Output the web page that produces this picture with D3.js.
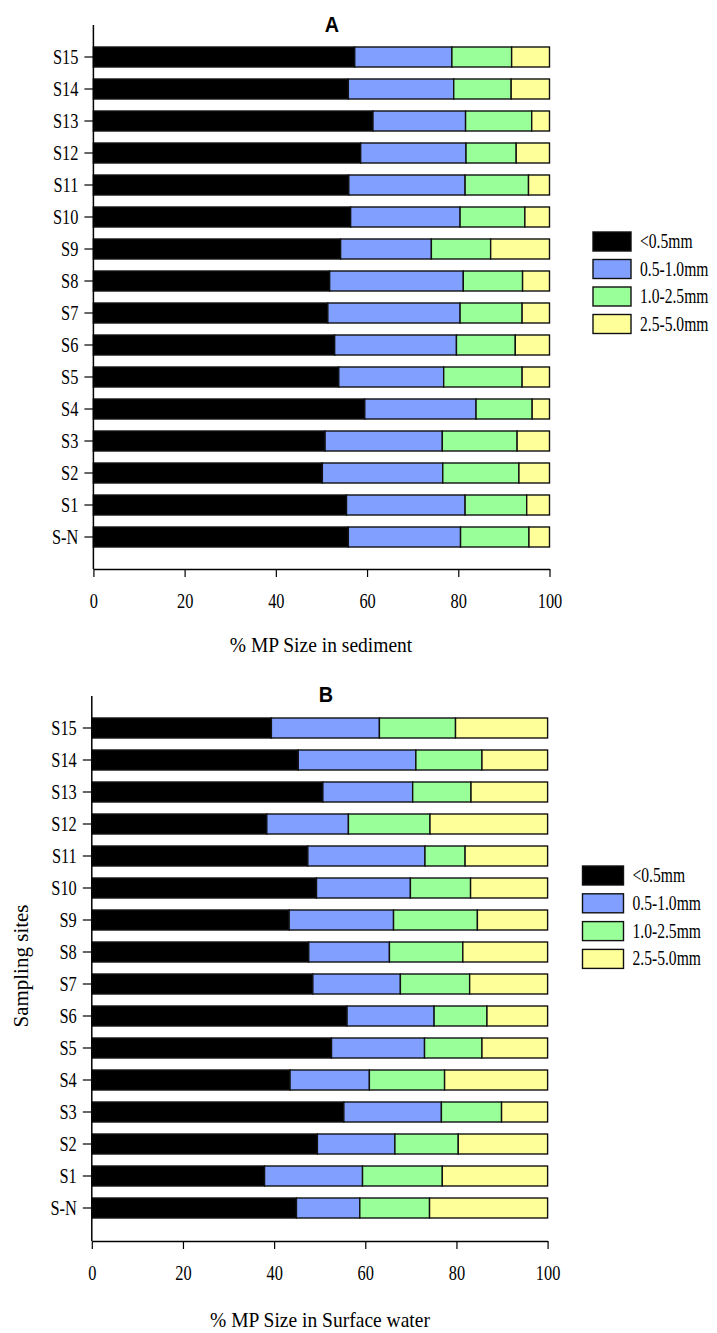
<!DOCTYPE html>
<html>
<head>
<meta charset="utf-8">
<script src="https://cdn.jsdelivr.net/npm/d3@7/dist/d3.min.js"></script>
<style>
  body { margin: 0; background: #fff; }
  svg { display: block; }
  text { font-family: "Liberation Serif", "Times New Roman", serif; fill: #000; }
</style>
</head>
<body>
<div id="chart"></div>
<script>
//---------------------------------- Data --------------------
var sites = ["S-N", "S1", "S2", "S3", "S4", "S5", "S6", "S7", "S8", "S9", "S10", "S11", "S12", "S13", "S14", "S15"];
var size_classes = ["<0.5mm", "0.5-1.0mm", "1.0-2.5mm", "2.5-5.0mm"];
var x_ticks = [0, 20, 40, 60, 80, 100];

// sediment (A), % per size class, same order as sites
var sed_lt05  = [55.9, 55.5, 50.2, 50.8, 59.5, 53.8, 52.9, 51.4, 51.8, 54.2, 56.4, 56.0, 58.6, 61.3, 55.9, 57.3];
var sed_05_10 = [24.6, 26.0, 26.4, 25.7, 24.4, 23.0, 26.7, 29.0, 29.3, 19.9, 24.0, 25.5, 23.1, 20.3, 23.1, 21.3];
var sed_10_25 = [15.0, 13.5, 16.7, 16.4, 12.3, 17.2, 12.9, 13.6, 13.0, 13.0, 14.2, 13.9, 11.0, 14.5, 12.6, 13.1];
var sed_25_50 = [4.5, 5.0, 6.7, 7.1, 3.8, 6.0, 7.5, 6.0, 5.9, 12.9, 5.4, 4.6, 7.3, 3.9, 8.4, 8.3];

// surface water (B)
var wat_lt05  = [44.9, 37.9, 49.5, 55.3, 43.5, 52.6, 56.0, 48.5, 47.6, 43.3, 49.3, 47.4, 38.4, 50.7, 45.3, 39.4];
var wat_05_10 = [13.9, 21.5, 17.0, 21.4, 17.4, 20.4, 19.1, 19.2, 17.7, 22.9, 20.6, 25.7, 17.9, 19.7, 25.8, 23.7];
var wat_10_25 = [15.3, 17.5, 13.9, 13.2, 16.5, 12.6, 11.6, 15.2, 16.1, 18.4, 13.2, 8.8, 17.9, 12.8, 14.5, 16.7];
var wat_25_50 = [25.9, 23.1, 19.6, 10.1, 22.6, 14.4, 13.3, 17.1, 18.6, 15.4, 16.9, 18.1, 25.8, 16.8, 14.4, 20.2];

var colors = d3.scaleOrdinal()
    .domain(size_classes)
    .range(["#000000", "#809fff", "#99ff99", "#ffff99"]);

var squeeze = 0.78;   // the figure is narrowed horizontally, so are its texts

var svg = d3.select("div#chart")
   .append("svg")
   .attr("width", 717)
   .attr("height", 1333);

function buildRows(series) {
  return sites.map(function(s, i) {
    var row = {site: s};
    size_classes.forEach(function(c, j) { row[c] = series[j][i]; });
    return row;
  });
}

//---------------------------------- One panel --------------------
function drawPanel(p) {

  var x_scale = d3.scaleLinear()
      .domain([0, 100])
      .range([p.x0, p.x1]);

  // step of 32px, bars 20px high
  var y_scale = d3.scaleBand()
      .domain(sites.slice().reverse())
      .range([p.firstCenter - 16, p.firstCenter - 16 + 32 * sites.length])
      .paddingInner(0.375)
      .paddingOuter(0.1875);

  var stacked = d3.stack().keys(size_classes)(buildRows(p.series));

  var g = svg.append("g").attr("class", "panel");

  // ---------- bars ----------
  g.selectAll(".layer").data(stacked).enter().append("g")
    .attr("class", "layer")
    .attr("fill", function(d) { return colors(d.key); })
    .selectAll("rect").data(function(d) { return d; }).enter().append("rect")
      .attr("x", function(d) { return x_scale(d[0]); })
      .attr("y", function(d) { return y_scale(d.data.site); })
      .attr("width", function(d) { return x_scale(d[1]) - x_scale(d[0]); })
      .attr("height", y_scale.bandwidth())
      .style("stroke", "#111")
      .style("stroke-width", 1.4);

  // ---------- y axis ----------
  var yAxis = g.append("g")
    .attr("transform", "translate(" + p.x0 + ",0)")
    .call(d3.axisLeft(y_scale).tickSize(9).tickSizeOuter(0));
  yAxis.select(".domain").remove();
  yAxis.selectAll(".tick line").style("stroke", "#000").style("stroke-width", 1.2);
  yAxis.selectAll(".tick text")
    .attr("x", null)
    .attr("dy", "0.35em")
    .attr("transform", "translate(-15,0) scale(" + squeeze + ",1)")
    .style("font-size", "21px")
    .style("font-family", '"Liberation Serif", serif');

  g.append("line")
    .attr("x1", p.x0).attr("x2", p.x0)
    .attr("y1", p.axisTop).attr("y2", p.axisY)
    .style("stroke", "#000").style("stroke-width", 1.5);

  // ---------- x axis ----------
  var xAxis = g.append("g")
    .attr("transform", "translate(0," + p.axisY + ")")
    .call(d3.axisBottom(x_scale).tickValues(x_ticks).tickSize(8).tickSizeOuter(0));
  xAxis.select(".domain").style("stroke", "#000").style("stroke-width", 1.5);
  xAxis.selectAll(".tick line").style("stroke", "#000").style("stroke-width", 1.2);
  xAxis.selectAll(".tick text")
    .attr("y", 39)
    .attr("dy", null)
    .attr("transform", "scale(" + squeeze + ",1)")
    .style("font-size", "21px")
    .style("font-family", '"Liberation Serif", serif');

  // ---------- titles ----------
  g.append("text")
    .attr("transform", "translate(" + p.titleX + "," + p.titleY + ") scale(0.9,1)")
    .attr("text-anchor", "middle")
    .style("font-family", '"Liberation Sans", Arial, sans-serif')
    .style("font-weight", "bold")
    .style("font-size", "22px")
    .text(p.title);

  g.append("text")
    .attr("transform", "translate(" + p.labelX + "," + p.labelY + ") scale(0.93,1)")
    .attr("text-anchor", "middle")
    .style("font-size", "21px")
    .text(p.xLabel);

  // ---------- legend ----------
  var legend = g.selectAll(".legend_item").data(size_classes).enter().append("g")
    .attr("class", "legend_item")
    .attr("transform", function(d, i) { return "translate(" + p.legX + "," + (p.legY + i * p.legStep) + ")"; });

  legend.append("rect")
    .attr("width", p.legW)
    .attr("height", 19)
    .attr("fill", function(d) { return colors(d); })
    .style("stroke", "#111")
    .style("stroke-width", 1.4);

  legend.append("text")
    .attr("transform", "translate(" + (p.legW + 9) + ",16) scale(" + squeeze + ",1)")
    .style("font-size", "20px")
    .text(function(d) { return d; });
}

drawPanel({
  series: [sed_lt05, sed_05_10, sed_10_25, sed_25_50],
  x0: 93.4, x1: 549.5, firstCenter: 57, axisTop: 25, axisY: 569,
  title: "A", titleX: 332, titleY: 32,
  xLabel: "% MP Size in sediment", labelX: 321, labelY: 652,
  legX: 593, legY: 232, legStep: 27.5, legW: 38
});

drawPanel({
  series: [wat_lt05, wat_05_10, wat_10_25, wat_25_50],
  x0: 91.8, x1: 547.6, firstCenter: 728, axisTop: 696, axisY: 1241,
  title: "B", titleX: 326, titleY: 702,
  xLabel: "% MP Size in Surface water", labelX: 320, labelY: 1327,
  legX: 582.5, legY: 866, legStep: 27.8, legW: 41
});

// ---------- shared y label ----------
svg.append("text")
  .attr("transform", "translate(28,966) rotate(-90)")
  .attr("text-anchor", "middle")
  .style("font-size", "21px")
  .text("Sampling sites");
</script>
</body>
</html>
